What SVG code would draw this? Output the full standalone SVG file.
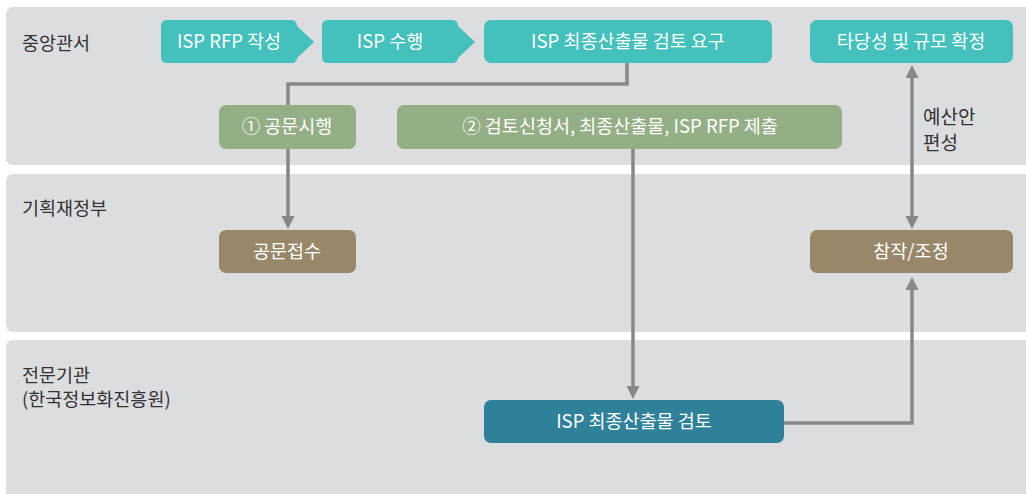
<svg xmlns="http://www.w3.org/2000/svg" width="1026" height="494" viewBox="0 0 1026 494">
  <style>
    .lane { fill: #DCDDDF; }
    .lanelabel { font-family: "Noto Sans CJK KR", "Noto Sans", sans-serif; font-size: 18.5px; fill: #333333; }
    .t { font-family: "Noto Sans CJK KR", "Noto Sans", sans-serif; font-size: 18.5px; fill: #FFFFFF; text-anchor: middle; }
    .teal { fill: #44C0BD; }
    .green { fill: #94AE86; }
    .brown { fill: #99876A; }
    .dark { fill: #2F8099; }
    .conn { fill: none; stroke: #87888C; stroke-width: 3.5; }
    .note { font-family: "Noto Sans CJK KR", "Noto Sans", sans-serif; font-size: 19px; fill: #333333; }
  </style>
  <defs>
    <marker id="arrow" viewBox="0 0 14 13" refX="9" refY="6.5" markerWidth="14" markerHeight="13" markerUnits="userSpaceOnUse" orient="auto-start-reverse">
      <path d="M0,0 L13,6.5 L0,13 Z" fill="#87888C"/>
    </marker>
  </defs>
  <rect width="1026" height="494" fill="#FFFFFF"/>

  <g id="lanes">
    <g id="lane-central">
      <rect class="lane" x="6" y="7" width="1030" height="158" rx="7"/>
      <text class="lanelabel" x="22" y="50">중앙관서</text>
    </g>
    <g id="lane-mosf">
      <rect class="lane" x="6" y="174" width="1030" height="158" rx="7"/>
      <text class="lanelabel" x="22" y="215">기획재정부</text>
    </g>
    <g id="lane-agency">
      <rect class="lane" x="6" y="340" width="1030" height="170" rx="7"/>
      <text class="lanelabel" x="22" y="382">전문기관</text>
      <text class="lanelabel" x="22" y="406">(한국정보화진흥원)</text>
    </g>
  </g>

  <g id="connectors">
    <path class="conn" d="M627,63 V84 H288 V225" marker-end="url(#arrow)"/>
    <path class="conn" d="M633,149 V395" marker-end="url(#arrow)"/>
    <path class="conn" d="M912,69 V225" marker-start="url(#arrow)" marker-end="url(#arrow)"/>
    <path class="conn" d="M784,423 H912 V281" marker-end="url(#arrow)"/>
  </g>

  <g id="node-rfp">
    <path class="teal" d="M167,20 H291 Q297,20 297,26 L314,42 L297,58 Q297,63 291,63 H167 Q161,63 161,57 V26 Q161,20 167,20 Z"/>
    <text class="t" x="229" y="48">ISP RFP 작성</text>
  </g>
  <g id="node-isp">
    <path class="teal" d="M328,20 H452 Q458,20 458,26 L475,42 L458,58 Q458,63 452,63 H328 Q322,63 322,57 V26 Q322,20 328,20 Z"/>
    <text class="t" x="390" y="48">ISP 수행</text>
  </g>
  <g id="node-request">
    <rect class="teal" x="484" y="20" width="288" height="43" rx="7"/>
    <text class="t" x="628" y="48">ISP 최종산출물 검토 요구</text>
  </g>
  <g id="node-confirm">
    <rect class="teal" x="810" y="20" width="203" height="43" rx="7"/>
    <text class="t" x="911" y="48">타당성 및 규모 확정</text>
  </g>
  <g id="node-notice">
    <rect class="green" x="219" y="105" width="137" height="44" rx="7"/>
    <text class="t" x="287" y="133">① 공문시행</text>
  </g>
  <g id="node-submit">
    <rect class="green" x="397" y="105" width="445" height="44" rx="7"/>
    <text class="t" x="620" y="133">② 검토신청서, 최종산출물, ISP RFP 제출</text>
  </g>
  <g id="node-receive">
    <rect class="brown" x="219" y="230" width="137" height="43" rx="7"/>
    <text class="t" x="287" y="258">공문접수</text>
  </g>
  <g id="node-adjust">
    <rect class="brown" x="810" y="230" width="203" height="43" rx="7"/>
    <text class="t" x="911" y="258">참작/조정</text>
  </g>
  <g id="node-review">
    <rect class="dark" x="484" y="400" width="300" height="43" rx="7"/>
    <text class="t" x="634" y="428">ISP 최종산출물 검토</text>
  </g>
  <g id="label-budget">
    <text class="note" x="923" y="124">예산안</text>
    <text class="note" x="923" y="150">편성</text>
  </g>
</svg>
